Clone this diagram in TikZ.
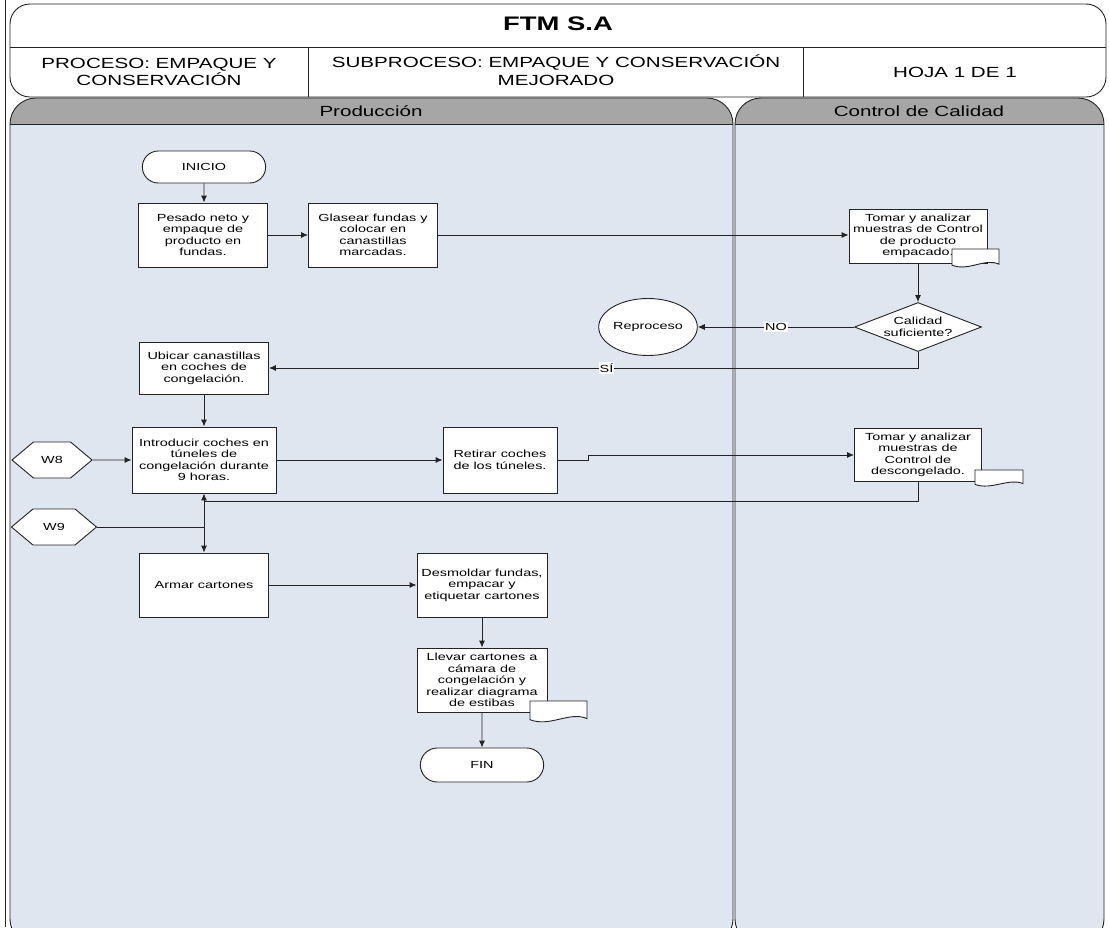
\documentclass[tikz,border=0pt]{standalone}
\usepackage{fontspec}
\setmainfont{Liberation Sans}[FakeStretch=1.4]
\usetikzlibrary{shapes.geometric,shapes.misc,shapes.symbols,arrows.meta}

\definecolor{lanebg}{RGB}{223,230,239}
\definecolor{tabgray}{RGB}{166,166,166}
\definecolor{linea}{RGB}{35,35,35}

\begin{document}
\begin{tikzpicture}[x=1pt, y=-1pt, >={Latex[length=7pt,width=6pt]},
    every node/.style={font=\fontsize{10.3}{11.4}\selectfont, align=center, text=black},
    borde/.style={draw=linea, line width=0.9pt},
    proc/.style={borde, fill=white, minimum width=129pt, minimum height=63pt, inner sep=1pt},
    term/.style={borde, fill=white, rounded rectangle, minimum width=130pt, minimum height=32pt},
    decision/.style={borde, fill=white, diamond, aspect=2.6, inner sep=0pt, minimum width=127pt, minimum height=49pt},
    conector/.style={borde, fill=white, ellipse, inner sep=0pt, minimum width=80pt, minimum height=57pt},
    pagina/.style={borde, fill=white, signal, signal to=east and west, signal pointer angle=80, minimum width=80pt, minimum height=36pt},
    hoja/.style={borde, fill=white},
    flecha/.style={borde, ->},
    etiqueta/.style={fill=white, inner sep=1pt}]

    \useasboundingbox (0,0) rectangle (1109,927);
    \clip (0,0) rectangle (1109,927);
    \fill[white] (0,0) rectangle (1109,927);
    \draw[borde] (5,0) -- (5,927);

    % encabezado
    \draw[borde, fill=white, rounded corners=20] (10,4) rectangle (1106,97);
    \draw[borde] (10,47) -- (1106,47);
    \draw[borde] (308,47) -- (308,97);
    \draw[borde] (803,47) -- (803,97);
    \node[font=\fontsize{19.6}{22}\selectfont\bfseries] (titulo) at (558,24) {FTM S.A};
    \node[font=\fontsize{14.7}{17.5}\selectfont] (proceso) at (159,72) {PROCESO: EMPAQUE Y\\CONSERVACIÓN};
    \node[font=\fontsize{14.7}{17.5}\selectfont] (subproceso) at (556,70) {SUBPROCESO: EMPAQUE Y CONSERVACIÓN\\MEJORADO};
    \node[font=\fontsize{14.7}{17.5}\selectfont] (hoja) at (955,72) {HOJA 1 DE 1};

    % carriles
    \fill[lanebg, rounded corners=26] (10,98) rectangle (733,945);
    \fill[lanebg, rounded corners=26] (735,98) rectangle (1104,945);
    \begin{scope}
        \clip (0,0) rectangle (1109,124);
        \fill[tabgray, rounded corners=26] (10,98) rectangle (733,945);
        \fill[tabgray, rounded corners=26] (735,98) rectangle (1104,945);
    \end{scope}
    \draw[borde, rounded corners=26] (10,98) rectangle (733,945);
    \draw[borde, rounded corners=26] (735,98) rectangle (1104,945);
    \draw[borde] (10,124) -- (733,124);
    \draw[borde] (735,124) -- (1104,124);
    \node[font=\fontsize{14.7}{17.5}\selectfont] (produccion) at (371,111) {Producción};
    \node[font=\fontsize{14.7}{17.5}\selectfont] (control) at (919,111) {Control de Calidad};

    % pasos
    \node[term] (inicio) at (204,167) {INICIO};
    \node[proc, minimum height=64pt] (pesado) at (203,235) {Pesado neto y\\empaque de\\producto en\\fundas.};
    \node[proc, minimum height=64pt] (glasear) at (373,235) {Glasear fundas y\\colocar en\\canastillas\\marcadas.};
    \node[proc, minimum width=138pt, minimum height=54pt] (tomaruno) at (918,236) {Tomar y analizar\\muestras de Control\\de producto\\empacado.};
    \node[decision] (calidad) at (918,327) {Calidad\\suficiente?};
    \node[conector] (reproceso) at (648,327) {Reproceso};
    \node[proc, minimum height=52pt] (ubicar) at (204,368) {Ubicar canastillas\\en coches de\\congelación.};
    \node[proc, minimum width=144pt, minimum height=66pt] (introducir) at (204,460) {Introducir coches en\\túneles de\\congelación durante\\9 horas.};
    \node[pagina] (weocho) at (52,460) {W8};
    \node[pagina, minimum width=85pt] (wenueve) at (54,527) {W9};
    \node[proc, minimum width=114pt, minimum height=66pt] (retirar) at (500,460) {Retirar coches\\de los túneles.};
    \node[proc, minimum width=127pt, minimum height=53pt] (tomardos) at (918,455) {Tomar y analizar\\muestras de\\Control de\\descongelado.};
    \node[proc, minimum height=64pt] (armar) at (204,585) {Armar cartones};
    \node[proc, minimum width=130pt, minimum height=64pt] (desmoldar) at (482,585) {Desmoldar fundas,\\empacar y\\etiquetar cartones};
    \node[proc, minimum width=130pt, minimum height=64pt] (llevar) at (482,680) {Llevar cartones a\\cámara de\\congelación y\\realizar diagrama\\de estibas};
    \node[term, minimum height=34pt] (fin) at (482,765) {FIN};

    % documentos
    \foreach \xa/\ya/\xb/\yb in {952/249/999/268, 975/470/1023/487, 530/701/587/723} {
        \draw[hoja] (\xa,\ya) -- (\xb,\ya) -- (\xb,{\ya+0.8*(\yb-\ya)})
            .. controls ({\xb-0.3*(\xb-\xa)},{\ya+0.45*(\yb-\ya)}) and ({\xa+0.35*(\xb-\xa)},{\ya+1.2*(\yb-\ya)}) .. (\xa,{\ya+0.85*(\yb-\ya)}) -- cycle;
    }

    % flujo
    \draw[flecha] (inicio) -- (inicio |- pesado.north);
    \draw[flecha] (pesado) -- (glasear);
    \draw[flecha] (glasear.east) -- (glasear.east -| tomaruno.west);
    \draw[flecha] (tomaruno) -- (calidad);
    \draw[flecha] (calidad) -- node[etiqueta] {NO} (reproceso);
    \draw[flecha] (calidad.south) |- node[etiqueta, pos=0.74] {SÍ} (ubicar.east);
    \draw[flecha] (ubicar) -- (introducir);
    \draw[flecha] (weocho) -- (introducir);
    \draw[flecha] (introducir) -- (retirar);
    \draw[flecha] (retirar.east) -- ++(31,0) |- (tomardos.west);
    \draw[flecha] (tomardos.south) -- ++(0,19) -| (armar.north);
    \draw[flecha] (wenueve.east) -| (introducir.south);
    \draw[flecha] (armar) -- (desmoldar);
    \draw[flecha] (desmoldar) -- (llevar);
    \draw[flecha] (llevar) -- (fin);
\end{tikzpicture}
\end{document}
